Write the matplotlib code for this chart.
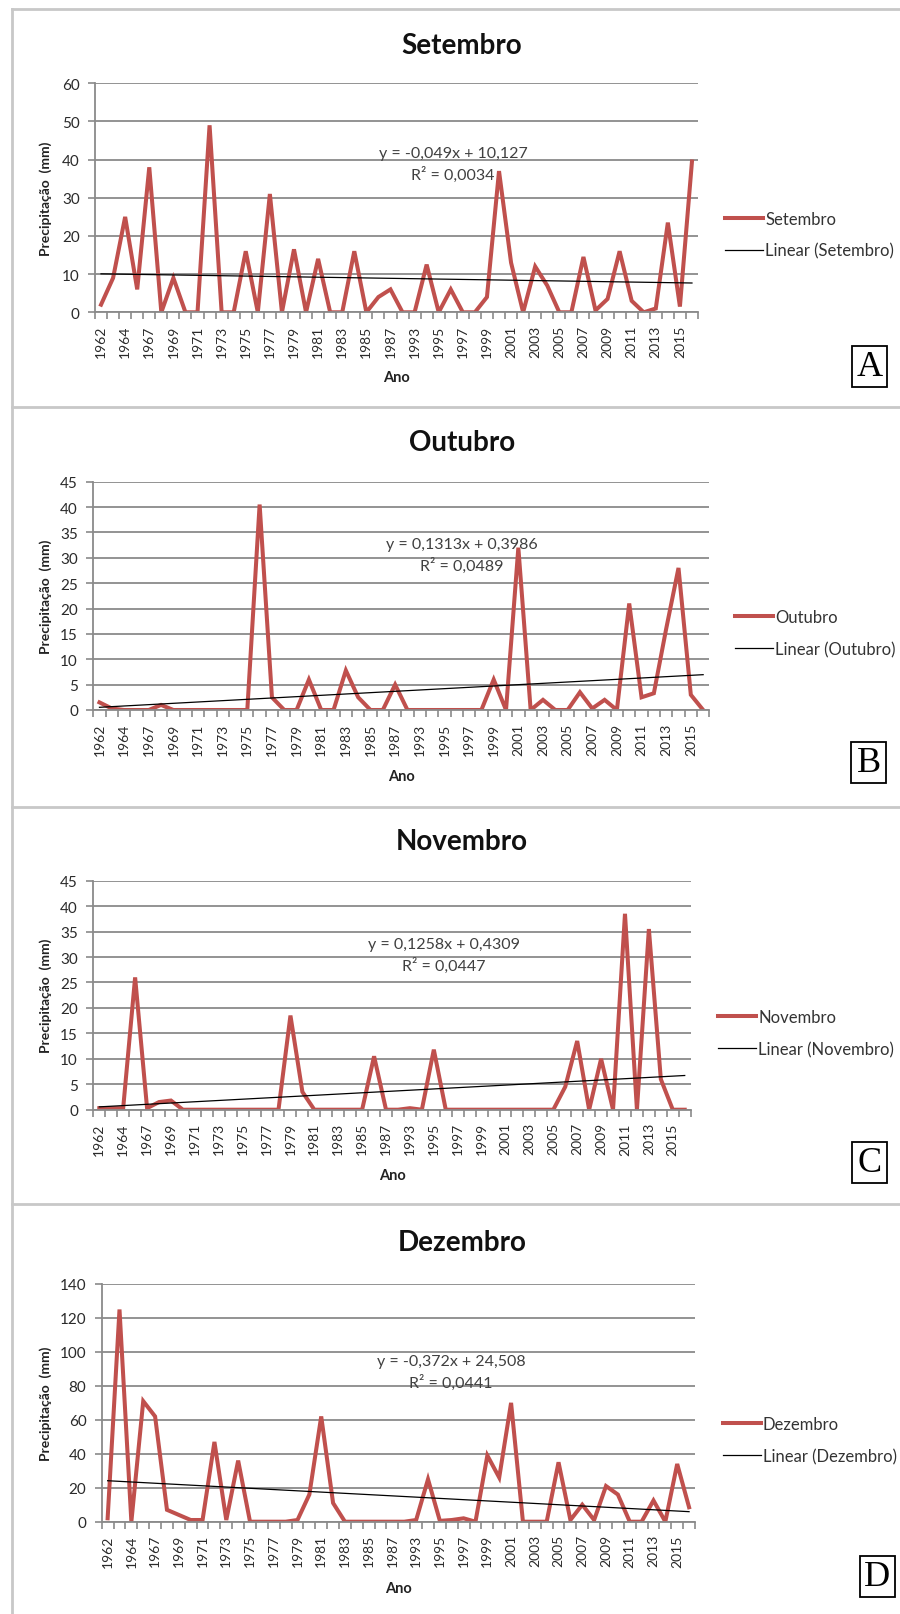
import matplotlib
matplotlib.use("Agg")
import matplotlib.pyplot as plt
from matplotlib.lines import Line2D
from matplotlib.patches import Rectangle
import numpy as np

plt.rcParams['font.family'] = ['Lato', 'DejaVu Sans']

# categorias (anos) - faltam alguns anos na serie original
anos = [1962, 1963, 1964, 1966] + list(range(1967, 1988)) + [1992] + list(range(1993, 2017))

setembro = [2, 9, 25, 6, 38, 0, 9, 0, 0, 49,
            0, 0, 16, 0, 31, 0, 16.5, 0, 14, 0,
            0, 16, 0, 4, 6, 0, 0, 12.5, 0, 6,
            0, 0, 4, 37, 13, 0, 12, 7, 0, 0,
            14.5, 0.5, 3.5, 16, 3, 0, 1, 23.5, 1.5, 39.5]
outubro = [1.5, 0.3, 0, 0, 0, 1, 0, 0, 0, 0,
           0, 0, 0, 40.5, 2.5, 0, 0, 6, 0, 0,
           7.8, 2.5, 0, 0, 5, 0, 0, 0, 0, 0,
           0, 0, 6, 0, 32, 0, 2, 0, 0, 3.5,
           0.3, 2, 0, 21, 2.5, 3.3, 16, 28, 3, 0]
novembro = [0.3, 0.3, 0.3, 26, 0.3, 1.5, 1.8, 0, 0, 0,
            0, 0, 0, 0, 0, 0, 18.5, 3.5, 0, 0,
            0, 0, 0, 10.5, 0, 0, 0.3, 0, 11.8, 0,
            0, 0, 0, 0, 0, 0, 0, 0, 0, 4.5,
            13.5, 0, 10, 0, 38.5, 0, 35.5, 6, 0, 0]
dezembro = [2, 125, 0, 71, 62, 7, 4, 1, 1, 47,
            1, 36, 0, 0, 0, 0, 1, 16, 62, 11,
            0, 0, 0, 0, 0, 0, 1, 25, 0.5, 1,
            2, 0, 39, 26, 70, 0, 0, 0, 35, 1,
            10, 1, 21, 16, 0, 0, 12.5, 0, 34, 8.5]

meses = ["Setembro", "Outubro", "Novembro", "Dezembro"]
series = [setembro, outubro, novembro, dezembro]
inclinacao = [-0.049, 0.1313, 0.1258, -0.372]
intercepto = [10.127, 0.3986, 0.4309, 24.508]
equacoes = ["y = -0,049x + 10,127", "y = 0,1313x + 0,3986",
            "y = 0,1258x + 0,4309", "y = -0,372x + 24,508"]
r2 = ["R² = 0,0034", "R² = 0,0489", "R² = 0,0447", "R² = 0,0441"]
ymax = [60, 45, 45, 140]
ystep = [10, 5, 5, 20]
letras = ["A", "B", "C", "D"]

W, H = 900, 1615
fig = plt.figure(figsize=(9, 16.15), dpi=100)


def fx(x):
    return x / W


def fy(y):
    return 1 - y / H


# layout em pixels: (esq, dir, topo, base) da area de plotagem
plots = [(95, 698, 84.3, 313.3), (93.3, 709.3, 482.7, 711),
         (93.3, 690.7, 881.7, 1110.7), (101.7, 695, 1285, 1522.7)]
titulo_y = [46, 443, 842, 1243]
ano_y = [378, 777, 1176, 1589]
eq_pos = [(453, 154), (462, 545), (444, 945), (451, 1362)]
leg_pos = [(725, 221.7), (735, 620), (718, 1020), (722.7, 1427.3)]
box_pos = [(852, 347), (851, 743), (852, 1143), (860, 1557)]

vermelho = "#C0504D"
cinza = "#8A8A8A"
x = np.arange(1, len(anos) + 1)

for k in range(4):
    l, r, t, b = plots[k]
    ax = fig.add_axes([fx(l), fy(b), (r - l) / W, (b - t) / H])
    ax.plot(x, series[k], color=vermelho, lw=2.9, solid_joinstyle='miter')
    tend = inclinacao[k] * x + intercepto[k]
    ax.plot(x, tend, color="black", lw=0.9)

    ax.set_xlim(0.5, len(anos) + 0.5)
    ax.set_ylim(0, ymax[k])
    ax.set_yticks(np.arange(0, ymax[k] + 1, ystep[k]))
    ax.set_xticks(x[::2])
    ax.set_xticklabels([str(a) for a in anos[::2]], rotation=90, fontsize=10, color="#2a2a2a")
    ax.set_xticks(np.arange(0.5, len(anos) + 1, 1), minor=True)
    ax.tick_params(axis='x', which='major', length=0, pad=9)
    ax.tick_params(axis='x', which='minor', length=5, width=1.2, color=cinza)
    ax.tick_params(axis='y', length=5, width=1.2, color=cinza, labelsize=11,
                   labelcolor="#2a2a2a", pad=6)
    ax.yaxis.grid(True, color=cinza, lw=1.3)
    ax.set_axisbelow(True)
    for s in ["top", "right"]:
        ax.spines[s].set_visible(False)
    for s in ["left", "bottom"]:
        ax.spines[s].set_color(cinza)
        ax.spines[s].set_linewidth(1.3)

    fig.text(fx(462), fy(titulo_y[k]), meses[k], ha="center", va="center",
             fontsize=20, fontweight="bold", color="#111111")
    fig.text(fx(45.5), fy((t + b) / 2), "Precipitação  (mm)", rotation=90,
             ha="center", va="center", fontsize=10, fontweight="bold", color="#222222")
    fig.text(fx((l + r) / 2), fy(ano_y[k]), "Ano", ha="center", va="center",
             fontsize=10.5, fontweight="bold", color="#222222")

    ex, ey = eq_pos[k]
    fig.text(fx(ex), fy(ey), equacoes[k], ha="center", va="center",
             fontsize=11.5, color="#404040")
    fig.text(fx(ex), fy(ey + 20.5), r2[k], ha="center", va="center",
             fontsize=11.5, color="#404040")

    lx, ly = leg_pos[k]
    handles = [Line2D([], [], color=vermelho, lw=2.9),
               Line2D([], [], color="black", lw=0.9)]
    ax.legend(handles, [meses[k], "Linear (" + meses[k] + ")"], loc="upper left",
              bbox_to_anchor=(fx(lx), fy(ly - 10)), bbox_transform=fig.transFigure,
              frameon=False, fontsize=12, handlelength=2.3, handletextpad=0.1,
              labelspacing=0.95, borderpad=0, borderaxespad=0, labelcolor="#333333")

    bx, by = box_pos[k]
    fig.add_artist(Rectangle((fx(bx), fy(by + 41)), 35 / W, 41 / H,
                             transform=fig.transFigure, fill=False,
                             edgecolor="black", lw=1.3))
    fig.text(fx(bx + 17.5), fy(by + 21), letras[k], ha="center", va="center",
             fontsize=26, family="Liberation Serif", color="black")

# molduras dos paineis
borda = "#C8C8C8"
fig.add_artist(Line2D([fx(12), fx(12)], [fy(10), fy(H)], color=borda, lw=2))
for yy in [10, 408, 808, 1205]:
    fig.add_artist(Line2D([fx(12), 1], [fy(yy), fy(yy)], color=borda, lw=2))

fig.savefig("out.png", dpi=100)
